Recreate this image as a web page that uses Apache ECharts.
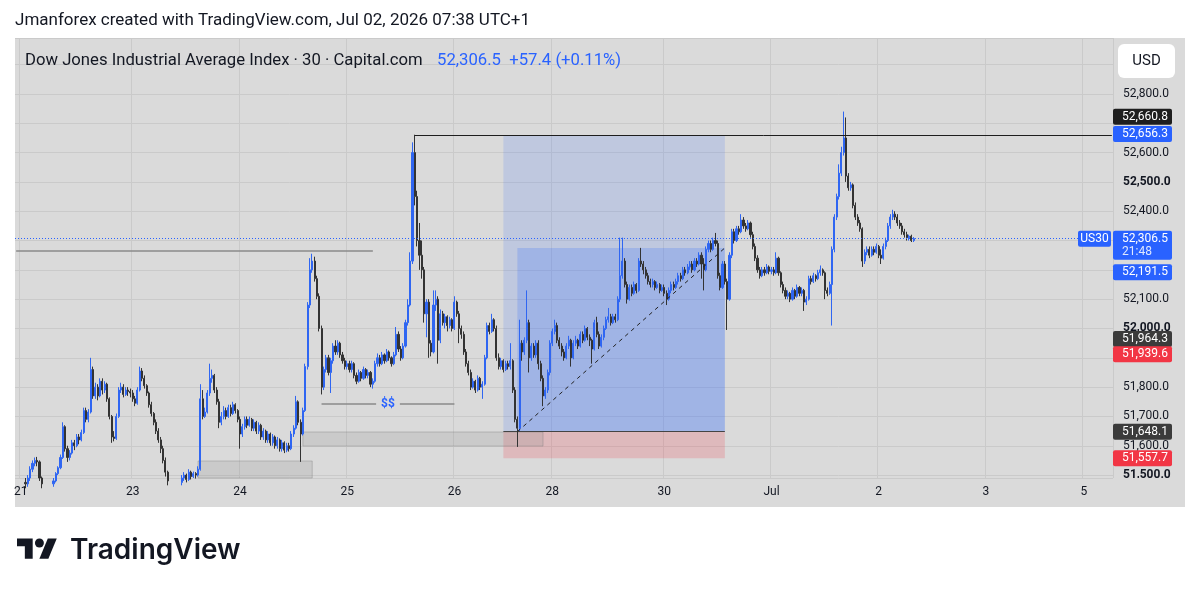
<!DOCTYPE html>
<html>
<head>
<meta charset="utf-8">
<title>US30 30m</title>
<script src="https://cdn.jsdelivr.net/npm/echarts@6.0.0/dist/echarts.min.js"></script>
<style>
  html, body { margin: 0; padding: 0; background: #ffffff; }
  #chart { width: 1199px; height: 593px; }
</style>
</head>
<body>
<div id="chart"></div>
<script>
// 30 minute sessions: [day label, number of bars]
var sessions = [
  ['19', 2], ['21', 2], ['22', 46], ['23', 46], ['24', 46], ['25', 46], ['26', 42],
  ['28', 2], ['29', 46], ['30', 46], ['Jul', 46], ['2', 46], ['3', 42], ['5', 2], ['6', 11]
];
var shownDays = ['21', '23', '24', '25', '26', '28', '30', 'Jul', '2', '3', '5'];
var hiddenPriceTicks = [52700, 52300, 52200, 51900];

// bars: [open, close, low, high]
var day21 = [[51470,51460,51440,51480],[51460,51475,51450,51485]];
var day22 = [
  [51475,51470,51455,51490],[51470,51490,51460,51500],[51490,51520,51480,51530],[51520,51540,51510,51550],[51540,51550,51530,51560],[51550,51545,51530,51562],[51545,51490,51480,51550],[51490,51470,51455,51495],[51470,51450,51430,51480],[51450,51440,51420,51460],
  [51440,51455,51430,51465],[51455,51470,51445,51480],[51470,51480,51460,51490],[51480,51505,51475,51510],[51505,51525,51500,51530],[51525,51560,51520,51570],[51560,51665,51555,51680],[51665,51590,51580,51670],[51590,51560,51545,51600],[51560,51575,51550,51585],
  [51575,51610,51570,51620],[51610,51600,51585,51620],[51600,51630,51595,51640],[51630,51620,51605,51640],[51620,51645,51615,51655],[51645,51720,51640,51730],[51720,51690,51680,51730],[51690,51715,51680,51725],[51715,51860,51710,51900],[51860,51770,51760,51870],
  [51770,51800,51760,51815],[51800,51770,51755,51810],[51770,51820,51765,51830],[51820,51790,51775,51830],[51790,51810,51780,51820],[51810,51760,51750,51815],[51760,51700,51690,51765],[51700,51630,51610,51705],[51630,51625,51615,51650],[51625,51700,51620,51710],
  [51700,51790,51695,51800],[51790,51800,51780,51815],[51800,51775,51765,51810],[51775,51790,51770,51800],[51790,51785,51770,51800],[51785,51780,51765,51795]
];
var day23 = [
  [51780,51760,51750,51790],[51760,51745,51735,51770],[51745,51790,51740,51800],[51790,51855,51785,51870],[51855,51830,51820,51865],[51830,51805,51795,51840],[51805,51780,51770,51810],[51780,51740,51730,51785],[51740,51710,51700,51750],[51710,51680,51670,51715],
  [51680,51650,51640,51690],[51650,51620,51610,51660],[51620,51590,51575,51630],[51590,51550,51540,51600],[51550,51510,51495,51560],[51510,51480,51465,51515],[51480,51460,51445,51485],[51460,51440,51425,51470],[51440,51450,51430,51460],[51450,51465,51440,51475],
  [51465,51475,51455,51485],[51475,51490,51465,51500],[51490,51500,51480,51510],[51500,51485,51475,51505],[51485,51510,51480,51520],[51510,51495,51485,51515],[51495,51505,51490,51512],[51505,51500,51488,51510],[51500,51520,51495,51530],[51520,51760,51515,51810],
  [51760,51700,51690,51790],[51700,51715,51695,51730],[51715,51780,51710,51790],[51780,51830,51770,51880],[51830,51840,51815,51860],[51840,51790,51780,51845],[51790,51750,51740,51800],[51750,51680,51660,51760],[51680,51700,51670,51715],[51700,51720,51690,51735],
  [51720,51700,51690,51730],[51700,51730,51695,51740],[51730,51710,51700,51740],[51710,51740,51705,51750],[51740,51720,51710,51745],[51720,51690,51680,51725]
];
var day24 = [
  [51690,51640,51590,51700],[51640,51665,51630,51675],[51665,51690,51655,51700],[51690,51670,51660,51700],[51670,51690,51665,51700],[51690,51660,51650,51695],[51660,51680,51650,51690],[51680,51650,51640,51685],[51650,51670,51640,51680],[51670,51630,51620,51675],
  [51630,51650,51620,51660],[51650,51620,51610,51655],[51620,51640,51610,51650],[51640,51610,51600,51645],[51610,51630,51600,51640],[51630,51600,51590,51635],[51600,51620,51590,51630],[51620,51590,51580,51625],[51590,51610,51580,51620],[51610,51585,51575,51615],
  [51585,51600,51578,51610],[51600,51590,51580,51610],[51590,51640,51585,51650],[51640,51660,51630,51670],[51660,51750,51655,51770],[51750,51680,51670,51755],[51680,51640,51545,51690],[51640,51720,51635,51730],[51720,51870,51715,51880],[51870,52080,51860,52090],
  [52080,52200,52070,52240],[52200,52230,52190,52255],[52230,52170,52160,52245],[52170,52110,52100,52180],[52110,52000,51990,52120],[52000,51800,51775,52010],[51800,51860,51790,51870],[51860,51900,51850,51910],[51900,51850,51840,51910],[51850,51890,51780,51900],
  [51890,51940,51880,51950],[51940,51920,51910,51960],[51920,51950,51910,51960],[51950,51910,51900,51955],[51910,51890,51880,51920],[51890,51870,51860,51900]
];
var day25 = [
  [51870,51880,51860,51890],[51880,51860,51850,51890],[51860,51880,51850,51890],[51880,51840,51830,51885],[51840,51820,51810,51850],[51820,51850,51815,51860],[51850,51830,51820,51855],[51830,51860,51825,51870],[51860,51840,51830,51865],[51840,51850,51830,51860],
  [51850,51810,51800,51855],[51810,51820,51795,51830],[51820,51880,51815,51890],[51880,51900,51870,51915],[51900,51880,51870,51910],[51880,51910,51875,51920],[51910,51890,51880,51915],[51890,51920,51885,51930],[51920,51900,51890,51925],[51900,51880,51870,51905],
  [51880,51910,51875,51920],[51910,51980,51905,52005],[51980,51930,51920,51990],[51930,51900,51890,51940],[51900,51940,51895,51950],[51940,52020,51935,52030],[52020,52080,52010,52100],[52080,52230,52075,52260],[52230,52600,52220,52635],[52600,52450,52420,52661],
  [52450,52300,52280,52470],[52300,52250,52200,52360],[52250,52200,52170,52300],[52200,52050,52020,52210],[52050,52090,51970,52100],[52090,51950,51900,52100],[51950,51920,51905,51960],[51920,52080,51915,52130],[52080,52100,52060,52130],[52100,51960,51880,52110],
  [51960,52050,51950,52065],[52050,52020,52010,52060],[52020,52040,52000,52050],[52040,52010,51990,52045],[52010,52030,52000,52040],[52030,52000,51990,52035]
];
var day26 = [
  [52000,52090,51995,52110],[52090,52050,52040,52095],[52050,52000,51950,52060],[52000,51980,51965,52010],[51980,51920,51910,51990],[51920,51880,51870,51930],[51880,51850,51840,51890],[51850,51800,51790,51860],[51800,51820,51795,51830],[51820,51790,51780,51825],
  [51790,51830,51785,51840],[51830,51800,51790,51835],[51800,51810,51760,51820],[51810,51900,51805,51910],[51900,52010,51895,52020],[52010,51990,51980,52020],[51990,52030,51985,52050],[52030,52000,51990,52035],[52000,51900,51890,52010],[51900,51870,51860,51915],
  [51870,51890,51860,51900],[51890,51860,51850,51895],[51860,51880,51855,51890],[51880,51870,51860,51890],[51870,51890,51860,51950],[51890,51790,51780,51895],[51790,51690,51680,51800],[51690,51660,51596,51700],[51660,51950,51650,52030],[51950,51920,51890,51960],
  [51920,51960,51910,51970],[51960,52020,51950,52130],[52020,51900,51850,52030],[51900,51940,51890,51950],[51940,51910,51900,51950],[51910,51950,51900,51960],[51950,51880,51860,51960],[51880,51830,51820,51890],[51830,51770,51735,51840],[51770,51790,51760,51800],
  [51790,51850,51780,51860],[51850,51950,51840,51960]
];
var day28 = [[51950,51990,51940,52000],[51990,52010,51980,52030]];
var day29 = [
  [52010,51960,51950,52020],[51960,51940,51930,51970],[51940,51920,51905,51950],[51920,51900,51890,51930],[51900,51940,51895,51950],[51940,51960,51930,51975],[51960,51900,51870,51965],[51900,51950,51895,51960],[51950,51960,51940,51975],[51960,51940,51930,51965],
  [51940,51980,51935,51990],[51980,51960,51950,51990],[51960,52000,51955,52010],[52000,51970,51960,52005],[51970,51960,51940,51980],[51960,51930,51880,51965],[51930,52020,51925,52030],[52020,51980,51970,52040],[51980,51940,51930,51990],[51940,51970,51935,51980],
  [51970,52000,51960,52010],[52000,52030,51995,52040],[52030,52040,52020,52070],[52040,52020,52010,52050],[52020,52040,52015,52050],[52040,52030,52020,52050],[52030,52100,52025,52110],[52100,52180,52090,52310],[52180,52230,52170,52310],[52230,52150,52140,52240],
  [52150,52100,52085,52160],[52100,52140,52095,52150],[52140,52120,52110,52150],[52120,52150,52115,52160],[52150,52130,52120,52155],[52130,52230,52125,52240],[52230,52220,52210,52275],[52220,52200,52185,52230],[52200,52180,52170,52210],[52180,52160,52150,52190],
  [52160,52150,52140,52170],[52150,52160,52140,52170],[52160,52140,52130,52165],[52140,52150,52135,52160],[52150,52130,52120,52155],[52130,52140,52125,52150]
];
var day30 = [
  [52140,52120,52110,52150],[52120,52100,52080,52130],[52100,52130,52095,52140],[52130,52150,52120,52160],[52150,52140,52130,52160],[52140,52160,52135,52170],[52160,52180,52150,52190],[52180,52170,52160,52190],[52170,52200,52165,52210],[52200,52190,52180,52210],
  [52190,52210,52185,52220],[52210,52220,52200,52230],[52220,52200,52190,52230],[52200,52230,52195,52240],[52230,52220,52210,52240],[52220,52250,52215,52260],[52250,52220,52170,52260],[52220,52200,52130,52240],[52200,52270,52195,52280],[52270,52290,52260,52300],
  [52290,52270,52260,52300],[52270,52300,52265,52310],[52300,52290,52280,52326],[52290,52180,52170,52300],[52180,52140,52130,52190],[52140,52220,52135,52230],[52220,52160,52150,52230],[52160,52100,51995,52170],[52100,52250,52095,52260],[52250,52330,52240,52340],
  [52330,52300,52290,52340],[52300,52340,52295,52350],[52340,52330,52320,52350],[52330,52370,52325,52390],[52370,52350,52340,52380],[52350,52340,52330,52360],[52340,52360,52335,52370],[52360,52320,52310,52365],[52320,52280,52270,52330],[52280,52240,52230,52290],
  [52240,52200,52190,52250],[52200,52180,52170,52210],[52180,52200,52175,52210],[52200,52190,52180,52210],[52190,52210,52185,52220],[52210,52195,52185,52215]
];
var dayJul1 = [
  [52195,52200,52185,52210],[52200,52190,52180,52210],[52190,52240,52185,52260],[52240,52190,52180,52245],[52190,52150,52140,52195],[52150,52130,52120,52160],[52130,52110,52100,52140],[52110,52120,52100,52130],[52120,52100,52090,52125],[52100,52130,52095,52140],
  [52130,52110,52100,52135],[52110,52140,52105,52150],[52140,52120,52110,52145],[52120,52130,52110,52140],[52130,52090,52060,52135],[52090,52100,52080,52110],[52100,52170,52095,52180],[52170,52160,52150,52180],[52160,52180,52155,52190],[52180,52170,52160,52185],
  [52170,52190,52165,52200],[52190,52200,52180,52215],[52200,52190,52180,52205],[52190,52130,52100,52195],[52130,52120,52110,52140],[52120,52150,52115,52160],[52150,52270,52010,52280],[52270,52380,52260,52390],[52380,52450,52370,52460],[52450,52530,52440,52560],
  [52530,52600,52520,52620],[52600,52650,52590,52740],[52650,52520,52500,52720],[52520,52480,52470,52530],[52480,52490,52470,52500],[52490,52420,52410,52495],[52420,52380,52370,52430],[52380,52360,52350,52390],[52360,52340,52330,52370],[52340,52230,52210,52345],
  [52230,52260,52220,52270],[52260,52270,52250,52280],[52270,52250,52240,52280],[52250,52270,52245,52280],[52270,52260,52250,52280],[52260,52280,52255,52290]
];
var dayJul2 = [
  [52280,52250,52240,52285],[52250,52240,52220,52270],[52240,52280,52235,52290],[52280,52300,52270,52310],[52300,52350,52295,52360],[52350,52380,52340,52390],[52380,52390,52370,52405],[52390,52380,52370,52400],[52380,52360,52350,52390],[52360,52350,52340,52370],
  [52350,52330,52320,52360],[52330,52320,52310,52340],[52320,52310,52300,52330],[52310,52315,52300,52320],[52315,52300,52295,52320],[52300,52306.5,52295,52312]
];

var lastPrice = 52306.5;
// drawings: [bar index, price]
var resistanceLine = [[0, 52265], [153, 52265]];
var highLine = [[171, 52660.8], [470, 52660.8]];
var liquidityLine = [[131, 51744], [188, 51744]];
var zoneLow = [[78, 51490], [127, 51548]];
var zoneMid = [[123, 51599], [226, 51647]];
var position = { start: 209, entryBar: 215, end: 304, entry: 51648.1, target: 52656.3, stop: 51557.7, reached: 52275 };
var priceTags = [
  [52660.8, '#1e1e1e', -18],
  [52656.3, '#2962ff', -2],
  [52191.5, '#2962ff', 0],
  [51964.3, '#3b3b3b', 0],
  [51939.6, '#f23645', 8],
  [51648.1, '#3b3b3b', 0],
  [51557.7, '#f23645', 0]
];

var categories = [];
var labelIdx = {};
sessions.forEach(function (s) {
  if (shownDays.indexOf(s[0]) >= 0) labelIdx[categories.length] = true;
  for (var k = 0; k < s[1]; k++) categories.push(s[0] + '|' + k);
});
var bars = [].concat(day21, day22, day23, day24, day25, day26, day28, day29, day30, dayJul1, dayJul2);
var candles = ['-', '-'].concat(bars);   // the two Jun 19 bars are below the view

function fmtPrice(v) {
  return v.toLocaleString('en-US', { minimumFractionDigits: 1, maximumFractionDigits: 1 });
}
function showDay(i) { return !!labelIdx[i]; }
function seg(a, style, label) {
  var p = { coord: a[0], lineStyle: style };
  if (label) p.label = label;
  return [p, { coord: a[1] }];
}

var chart = echarts.init(document.getElementById('chart'));
chart.setOption({
  animation: false,
  backgroundColor: '#ffffff',
  textStyle: { fontFamily: 'Roboto' },
  grid: { left: 15, right: 86, top: 38, bottom: 115 },
  xAxis: {
    type: 'category',
    data: categories,
    boundaryGap: true,
    axisLine: { show: false },
    axisTick: { show: false },
    axisLabel: {
      interval: showDay,
      formatter: function (v) { return v.split('|')[0]; },
      color: '#131722', fontSize: 12, margin: 8
    },
    splitLine: { show: true, interval: showDay, lineStyle: { color: '#cacaca', width: 1 } }
  },
  yAxis: {
    type: 'value',
    position: 'right',
    min: 51490, max: 52991,
    minInterval: 100, maxInterval: 100,
    axisLine: { show: false },
    axisTick: { show: false },
    axisLabel: {
      margin: 10, color: '#131722', fontSize: 12,
      formatter: function (v) {
        if (Math.abs(v % 100) > 0.01 || hiddenPriceTicks.indexOf(v) >= 0) return '';
        return v % 500 === 0 ? '{b|' + fmtPrice(v) + '}' : fmtPrice(v);
      },
      rich: { b: { fontWeight: 'bold', fontSize: 12, color: '#131722' } }
    },
    splitLine: { lineStyle: { color: '#cacaca', width: 1 } }
  },
  series: [{
    type: 'candlestick',
    data: candles,
    barWidth: 1.6,
    itemStyle: {
      color: '#2f66f2', color0: '#333333',
      borderColor: '#2f66f2', borderColor0: '#333333', borderWidth: 1
    },
    markArea: {
      silent: true,
      data: [
        [{ coord: [position.start, position.entry], itemStyle: { color: 'rgba(41,98,255,0.15)' } }, { coord: [position.end, position.target] }],
        [{ coord: [position.start, position.stop], itemStyle: { color: 'rgba(242,54,69,0.2)' } }, { coord: [position.end, position.entry] }],
        [{ coord: [position.entryBar, position.entry], itemStyle: { color: 'rgba(41,98,255,0.2)' } }, { coord: [position.end, position.reached] }],
        [{ coord: zoneLow[0], itemStyle: { color: 'rgba(140,140,140,0.2)', borderColor: 'rgba(120,120,120,0.35)', borderWidth: 1 } }, { coord: zoneLow[1] }],
        [{ coord: zoneMid[0], itemStyle: { color: 'rgba(140,140,140,0.2)', borderColor: 'rgba(120,120,120,0.35)', borderWidth: 1 } }, { coord: zoneMid[1] }]
      ]
    },
    markLine: {
      silent: true,
      symbol: ['none', 'none'],
      label: { show: false },
      data: [
        { yAxis: lastPrice, lineStyle: { color: '#2962ff', type: [1, 2], width: 1 } },
        seg(resistanceLine, { color: '#8a8a8a', type: 'solid', width: 1.5 }),
        seg(highLine, { color: '#1e1e1e', type: 'solid', width: 1 }),
        seg(liquidityLine, { color: '#8a8a8a', type: 'solid', width: 1.5 }, {
          show: true, formatter: '$$', position: 'insideMiddle', color: '#2962ff',
          fontWeight: 'bold', fontSize: 12, backgroundColor: '#dadada', padding: [1, 5]
        }),
        seg([[position.start, position.entry], [position.end, position.entry]], { color: '#444444', type: 'solid', width: 1 }),
        seg([[position.entryBar, position.entry], [position.end, position.reached]], { color: '#222222', type: [4, 4], width: 1 })
      ]
    }
  }]
});

// overlays: panel, header, price tags, logo
function yPix(p) { return chart.convertToPixel({ yAxisIndex: 0 }, p); }
var g = [
  { type: 'rect', z: -100, shape: { x: 15, y: 38, width: 1170, height: 469 }, style: { fill: '#dadada' } },
  { type: 'text', z: 100, x: 15, y: 21, style: { text: 'Jmanforex created with TradingView.com, Jul 02, 2026 07:38 UTC+1', font: '17px Roboto', fill: '#131722', verticalAlign: 'middle' } },
  { type: 'text', z: 100, x: 25, y: 61, style: { text: 'Dow Jones Industrial Average Index \u00b7 30 \u00b7 Capital.com', font: '16.7px Roboto', fill: '#131722', verticalAlign: 'middle' } },
  { type: 'text', z: 100, x: 437, y: 61, style: { text: fmtPrice(lastPrice) + '  +57.4 (+0.11%)', font: '16.7px Roboto', fill: '#2962ff', verticalAlign: 'middle' } },
  { type: 'rect', z: 100, shape: { x: 1118, y: 44, width: 57, height: 34, r: 6 }, style: { fill: '#ffffff' } },
  { type: 'text', z: 101, x: 1146.5, y: 61, style: { text: 'USD', font: '15px Roboto', fill: '#131722', align: 'center', verticalAlign: 'middle' } },
  { type: 'rect', z: 90, shape: { x: 1113, y: 478, width: 72, height: 29 }, style: { fill: '#dadada' } }
];
priceTags.forEach(function (t) {
  var y = yPix(t[0]) + t[2];
  g.push({ type: 'rect', z: 100, shape: { x: 1113, y: y - 8, width: 59, height: 16, r: 2 }, style: { fill: t[1] } });
  g.push({ type: 'text', z: 101, x: 1122, y: y, style: { text: fmtPrice(t[0]), font: '12px Roboto', fill: '#ffffff', verticalAlign: 'middle' } });
});
var yl = yPix(lastPrice);
g.push({ type: 'rect', z: 100, shape: { x: 1113, y: yl - 8, width: 59, height: 29, r: 2 }, style: { fill: '#2962ff' } });
g.push({ type: 'text', z: 101, x: 1122, y: yl, style: { text: fmtPrice(lastPrice), font: '12px Roboto', fill: '#ffffff', verticalAlign: 'middle' } });
g.push({ type: 'text', z: 101, x: 1122, y: yl + 13, style: { text: '21:48', font: '12px Roboto', fill: 'rgba(255,255,255,0.85)', verticalAlign: 'middle' } });
g.push({ type: 'rect', z: 100, shape: { x: 1078, y: yl - 8, width: 33, height: 16, r: 2 }, style: { fill: '#2962ff' } });
g.push({ type: 'text', z: 101, x: 1094.5, y: yl, style: { text: 'US30', font: '12px Roboto', fill: '#ffffff', align: 'center', verticalAlign: 'middle' } });

// TradingView logo (36x28 mark)
var s = 1.12, ox = 17, oy = 534;
function pts(list) { return list.map(function (p) { return [ox + p[0] * s, oy + p[1] * s]; }); }
g.push({ type: 'polygon', z: 100, shape: { points: pts([[14, 22], [7, 22], [7, 11], [0, 11], [0, 4], [14, 4]]) }, style: { fill: '#131722' } });
g.push({ type: 'polygon', z: 100, shape: { points: pts([[28, 22], [20, 22], [27.5, 4], [35.5, 4]]) }, style: { fill: '#131722' } });
g.push({ type: 'circle', z: 100, shape: { cx: ox + 20 * s, cy: oy + 8 * s, r: 4 * s }, style: { fill: '#131722' } });
g.push({ type: 'text', z: 100, x: 70, y: 551, style: { text: 'TradingView', font: '600 28px Inter', fill: '#131722', verticalAlign: 'middle' } });

chart.setOption({ graphic: g });
</script>
</body>
</html>
